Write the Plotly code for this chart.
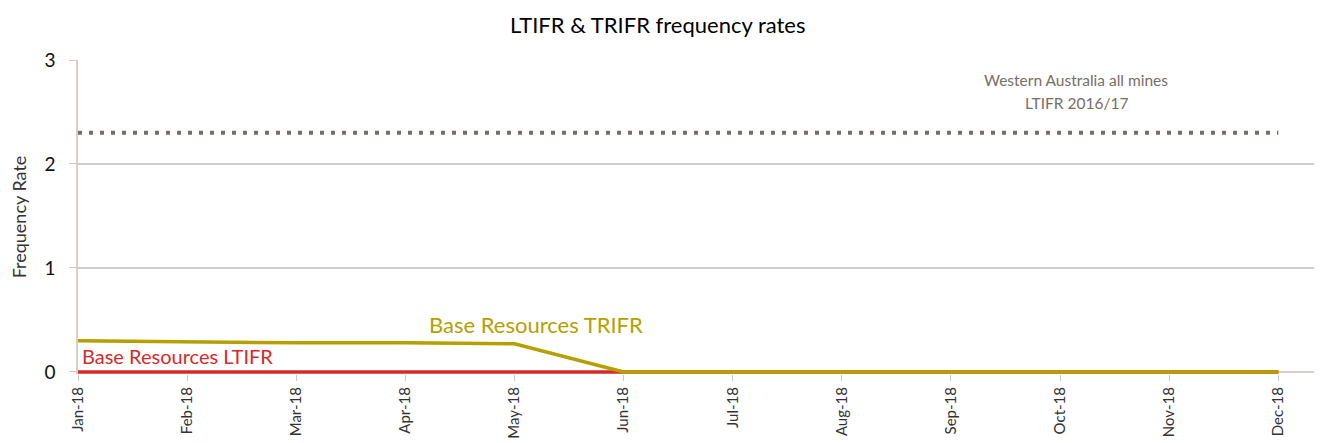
import plotly.graph_objects as go

months = ["Jan-18", "Feb-18", "Mar-18", "Apr-18", "May-18", "Jun-18",
          "Jul-18", "Aug-18", "Sep-18", "Oct-18", "Nov-18", "Dec-18"]
ltifr = [0, 0, 0, 0, 0, 0, 0, 0, 0, 0, 0, 0]
trifr = [0.30, 0.29, 0.28, 0.28, 0.27, 0, 0, 0, 0, 0, 0, 0]
wa_ltifr = [2.3] * 12
yticks = [0, 1, 2, 3]

x = list(range(len(months)))
FONT = "Lato"

fig = go.Figure()
fig.add_trace(go.Scatter(x=x, y=wa_ltifr, mode="lines",
                         line=dict(color="#776E64", width=4, dash="4px,7px"),
                         hoverinfo="skip", showlegend=False))
fig.add_trace(go.Scatter(x=x, y=ltifr, mode="lines",
                         line=dict(color="#D22B2B", width=3.5),
                         showlegend=False))
fig.add_trace(go.Scatter(x=x, y=trifr, mode="lines",
                         line=dict(color="#B5A000", width=3.5),
                         showlegend=False))

fig.add_annotation(x=4.2, y=trifr[4], text="Base Resources TRIFR", showarrow=False,
                   yshift=4, xanchor="center", yanchor="bottom",
                   font=dict(family=FONT, size=22, color="#B5A000"))
fig.add_annotation(x=0, y=ltifr[0], text="Base Resources LTIFR", showarrow=False,
                   xanchor="left", yanchor="bottom", yshift=2, xshift=2,
                   font=dict(family=FONT, size=20, color="#D22B2B"))
fig.add_annotation(x=9.15, y=wa_ltifr[0], text="Western Australia all mines",
                   showarrow=False, xanchor="center", yanchor="middle", yshift=53,
                   font=dict(family=FONT, size=15.5, color="#776E64"))
fig.add_annotation(x=9.15, y=wa_ltifr[0], text="LTIFR 2016/17",
                   showarrow=False, xanchor="center", yanchor="middle", yshift=30,
                   font=dict(family=FONT, size=15.5, color="#776E64"))

# page body has an 8px margin, so the figure is offset by (8, 8)
fig.update_layout(
    width=1314, height=435,
    margin=dict(l=70, r=0, t=52, b=69),
    paper_bgcolor="white", plot_bgcolor="white",
    title=dict(text="LTIFR & TRIFR frequency rates", x=0.466,
               xanchor="center", y=0.961, yanchor="middle", xref="paper",
               font=dict(family=FONT, size=22, color="black")),
    font=dict(family=FONT, color="#222222"),
)
fig.update_xaxes(range=[0, 11.4], tickvals=x, ticktext=months, tickangle=-90,
                 showgrid=False, zeroline=False, showline=False, automargin=False,
                 ticks="outside", ticklen=6, tickcolor="#D0C8C0",
                 tickfont=dict(family=FONT, size=15, color="#333333"))
fig.update_yaxes(range=[-0.02, 3], tickvals=yticks, showgrid=True, gridcolor="#CCCCCC",
                 gridwidth=1.5, zeroline=True, zerolinecolor="#D8D0C8", zerolinewidth=1.5,
                 showline=True, linecolor="#D8D0C8",
                 linewidth=1.5, ticks="outside", ticklen=7, tickcolor="#D0C8C0",
                 ticklabelstandoff=10, automargin=False,
                 tickfont=dict(family=FONT, size=19, color="#111111"),
                 title=dict(text="Frequency Rate", standoff=26,
                            font=dict(family=FONT, size=18, color="#333333")))

fig.write_html("out.html")
